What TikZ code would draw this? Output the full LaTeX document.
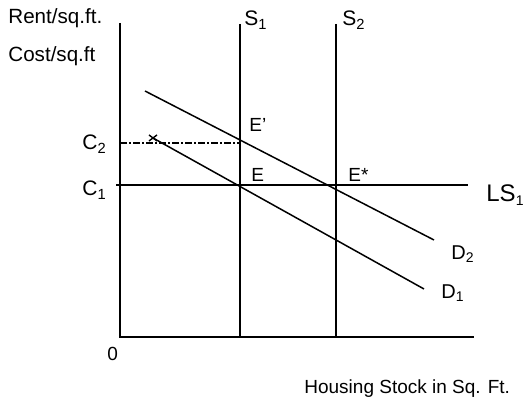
\documentclass[tikz,border=0pt]{standalone}
\usepackage{fontspec}
\setmainfont{Liberation Sans}
\usetikzlibrary{arrows.meta, positioning, calc}

\begin{document}
\begin{tikzpicture}[x=0.5pt, y=-0.5pt, >=Stealth,
                axis/.style={line width=1pt, black},
                curve/.style={line width=0.75pt, black},
                guide/.style={line width=0.75pt, black, dash pattern=on 3.5pt off 1pt on 1pt off 1pt},
                lbl/.style={inner sep=0pt, anchor=base west, font=\fontsize{9.5}{11}\selectfont},
                biglbl/.style={lbl, font=\fontsize{10.5}{12}\selectfont}]
                \useasboundingbox (0,0) rectangle (526,405);
                % axes
                \coordinate (top) at (120,23);
                \coordinate (o) at (120,337);
                \coordinate (xend) at (474,337);
                \draw[axis] (top) -- (o) -- (xend);
                % supply lines
                \coordinate (s1top) at (240,24);
                \coordinate (s1bot) at (240,337);
                \coordinate (s2top) at (336,24);
                \coordinate (s2bot) at (336,337);
                \draw[axis] (s1top) -- (s1bot);
                \draw[axis] (s2top) -- (s2bot);
                % long-run supply
                \coordinate (ls1) at (116,185);
                \coordinate (ls2) at (468,185);
                \draw[axis] (ls1) -- (ls2);
                % C2 level
                \coordinate (c2a) at (120,143);
                \coordinate (c2b) at (240,143);
                \draw[guide] (c2a) -- (c2b);
                % demand curves
                \coordinate (d2a) at (145,91);
                \coordinate (d2b) at (434,240);
                \coordinate (d1a) at (153,138);
                \coordinate (d1b) at (424,289);
                \draw[curve] (d2a) -- (d2b);
                \draw[curve] (d1a) -- (d1b);
                \draw[curve, line width=0.7pt] ($(d1a)+(-4,-3)$) -- ($(d1a)+(4,3)$)
                                               ($(d1a)+(-4,3)$) -- ($(d1a)+(4,-3)$);

                \node[lbl, font=\fontsize{10.3}{12}\selectfont] (rent) at (8,24) {Rent/sq.ft.};
                \node[lbl, font=\fontsize{10.3}{12}\selectfont] (cost) at (8,62) {Cost/sq.ft};
                \node[biglbl] (s1) at (244,26) {S\textsubscript{1}};
                \node[biglbl] (s2) at (342,26) {S\textsubscript{2}};
                \node[lbl] (ep) at (249,132) {E'};
                \node[lbl] (e) at (251,182) {E};
                \node[lbl] (es) at (348,182) {E*};
                \node[biglbl] (c2) at (82,150) {C\textsubscript{2}};
                \node[biglbl] (c1) at (82,196) {C\textsubscript{1}};
                \node[lbl, font=\fontsize{12}{14}\selectfont] (ls) at (486,202) {LS{\fontsize{7}{8}\selectfont\raisebox{-2pt}{1}}};
                \node[lbl, font=\fontsize{10}{12}\selectfont] (d2) at (451,260) {D\textsubscript{2}};
                \node[lbl, font=\fontsize{10}{12}\selectfont] (d1) at (441,299) {D\textsubscript{1}};
                \node[lbl] (zero) at (107,361) {0};
                \node[lbl] (xlab) at (304,394) {Housing Stock in Sq. Ft.};
            \end{tikzpicture}
\end{document}
